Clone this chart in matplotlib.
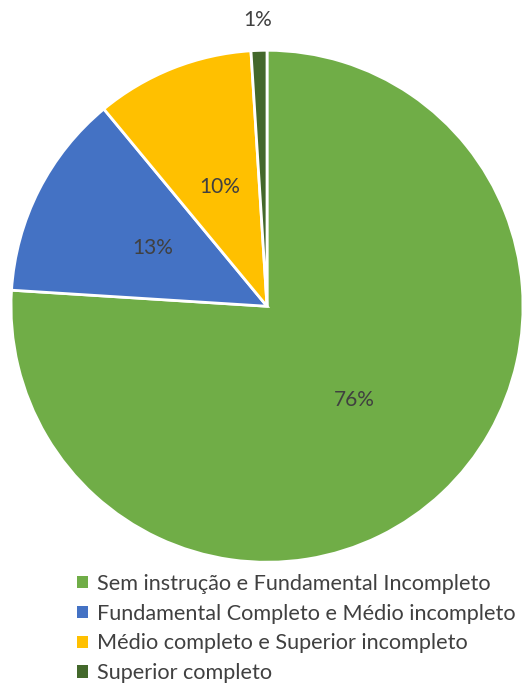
import numpy as np
import matplotlib.pyplot as plt
from matplotlib.patches import Patch

# Data
categorias = ['Sem instrução e Fundamental Incompleto',
              'Fundamental Completo e Médio incompleto',
              'Médio completo e Superior incompleto',
              'Superior completo']
valores = [76, 13, 10, 1]
cores = ['#70AD47', '#4472C4', '#FFC000', '#43682B']

plt.rcParams['font.family'] = ['Lato', 'DejaVu Sans']
texto = '#404040'

fig = plt.figure(figsize=(5.3, 6.84), dpi=100)
ax = fig.add_axes([0.0208, 0.178, 0.966, 0.7485])

wedges, _, autotexts = ax.pie(valores, colors=cores, startangle=90, counterclock=False,
                              autopct='%1.0f%%', pctdistance=0.5,
                              wedgeprops=dict(edgecolor='white', linewidth=2),
                              textprops=dict(color=texto, fontsize=15))
ax.set_xlim(-1, 1)
ax.set_ylim(-1, 1)
ax.set_aspect('equal')

# small slice label goes outside
for w, t, v in zip(wedges, autotexts, valores):
    if v < 3:
        ang = np.deg2rad((w.theta1 + w.theta2) / 2)
        t.set_position((1.12 * np.cos(ang), 1.12 * np.sin(ang)))

handles = [Patch(facecolor=c) for c in cores]
fig.legend(handles, categorias, loc='upper left', bbox_to_anchor=(0.145, 0.161),
           frameon=False, fontsize=15.6, labelcolor=texto,
           handlelength=0.5, handleheight=0.5, handletextpad=0.42,
           labelspacing=0.45, borderaxespad=0, borderpad=0)

fig.savefig('out.png', dpi=100)
